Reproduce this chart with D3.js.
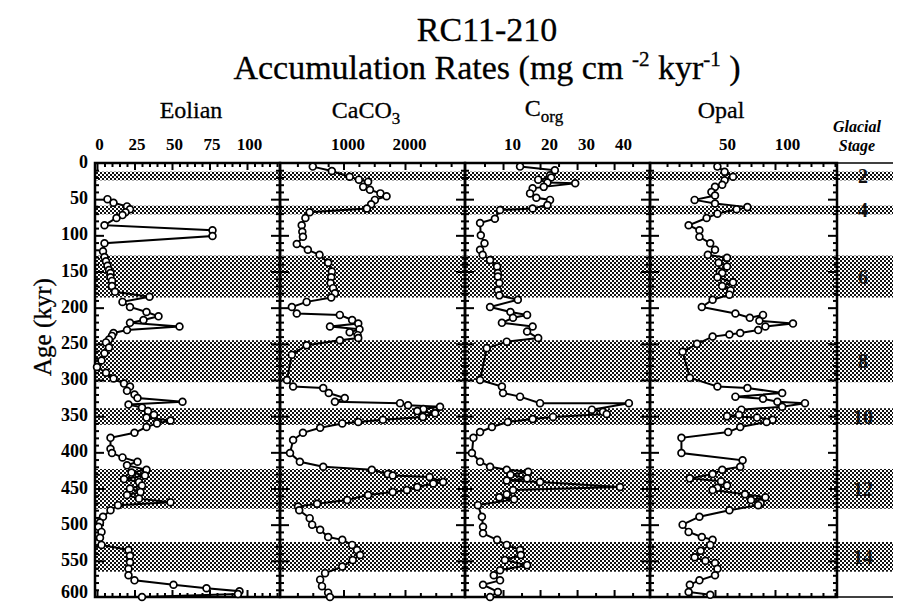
<!DOCTYPE html>
<html><head><meta charset="utf-8">
<script src="https://cdn.jsdelivr.net/npm/d3@7"></script>
<style>body{margin:0;background:#fff}svg{display:block}</style>
</head><body><svg id="c" width="898" height="602"></svg>
<script>
// ---------------- DATA ----------------
const ageTicks = [0,50,100,150,200,250,300,350,400,450,500,550,600];
const stageBands = [[12,24],[59,71],[128,186],[245,303],[339,362],[423,478],[524,565]];
const stageLabels = ["2","4","6","8","10","12","14"];

const eolianTicks = [0,25,50,75,100];
const caco3Ticks = [1000,2000];
const corgTicks = [10,20,30,40];
const opalTicks = [50,100];

// [age (kyr), accumulation rate]
const eolian = [[50,7],[55,11],[60,20],[64,22],[68,19],[72,17],[76,13],[86,5],[93,77],[101,77],[111,5],[122,4],[130,5],[136,6],[142,7],[148,8],[152,9],[158,9],[163,10],[170,10],[178,12],[185,35],[192,17],[199,22],[206,33],[212,41],[217,31],[221,22],[226,55],[231,20],[235,11],[239,10],[244,8],[248,6],[255,8],[263,5],[273,3],[282,0],[290,6],[298,11],[305,18],[309,22],[315,20],[320,25],[325,27],[330,57],[334,21],[338,30],[343,34],[348,38],[352,33],[356,49],[360,40],[365,33],[373,25],[380,9],[395,9],[401,10],[407,17],[413,27],[418,20],[424,33],[428,23],[432,32],[437,18],[441,28],[446,30],[450,22],[455,29],[459,20],[464,28],[469,49],[473,14],[480,9],[489,4],[497,2],[503,1],[510,3],[518,2],[528,3],[535,21],[543,22],[552,22],[561,21],[570,21],[577,25],[583,51],[588,73],[592,95],[596,94],[600,30]];

const caco3 = [[5,500],[11,810],[19,1100],[23,1250],[26,1400],[33,1320],[37,1430],[42,1600],[46,1700],[51,1510],[57,1450],[63,1380],[68,450],[76,380],[86,320],[95,330],[102,340],[112,240],[120,420],[127,610],[138,750],[150,810],[158,800],[166,790],[173,830],[180,860],[186,800],[192,400],[199,160],[208,240],[210,940],[217,1140],[222,1240],[226,780],[230,1260],[234,1100],[238,1230],[242,1240],[245,940],[252,400],[265,160],[300,80],[309,180],[311,670],[318,760],[325,1020],[330,860],[332,1920],[335,2050],[337,2570],[340,2300],[343,2200],[346,2490],[351,2290],[355,1640],[358,1240],[360,980],[366,620],[373,340],[383,180],[401,130],[413,290],[420,670],[424,1460],[430,1720],[432,1800],[434,2400],[441,2620],[443,2460],[448,2200],[452,2030],[455,1800],[459,1400],[466,1060],[471,570],[475,260],[480,280],[491,450],[500,490],[507,620],[517,750],[521,980],[528,1140],[535,1220],[542,1270],[549,1150],[558,980],[567,700],[576,620],[585,650],[594,750],[600,780]];

const corg = [[5,14.6],[10,24],[17,22.7],[20,23],[23,19.5],[27,22],[28,29.5],[33,21],[35,18],[42,17.3],[48,19],[51,22.7],[58,22],[63,18],[65,9.2],[77,7.8],[83,3.8],[100,4],[111,5],[120,3.8],[127,4.5],[134,6.5],[143,8.4],[152,8.6],[157,8.6],[166,9],[176,8.6],[183,9],[189,14],[199,6.5],[206,12],[210,16.5],[214,12.7],[221,9.7],[226,18],[233,16.5],[242,19.5],[247,11],[256,5.6],[300,3.8],[309,9.7],[318,10],[323,14.6],[332,20],[332,44],[341,34],[344,37],[347,38],[351,23.5],[354,18],[358,11.3],[365,7],[372,3.8],[380,2],[401,1.6],[413,3.8],[420,6.5],[424,11],[427,16.8],[431,12],[436,16.5],[439,11],[441,20],[448,41.6],[452,12.7],[458,11],[462,9],[465,13],[473,3.2],[489,4.3],[503,4.6],[512,4.6],[521,8.4],[528,11],[535,14.6],[542,14.8],[549,10.5],[556,16.5],[563,9.2],[570,7.5],[577,9.2],[583,4.6],[593,8.6],[600,6.5]];

const opal = [[5,52],[12,58],[19,65],[24,58],[30,56],[33,50],[40,47],[45,50],[51,33],[56,50],[61,77],[64,68],[70,52],[76,43],[86,28],[93,37],[102,37],[111,46],[120,50],[127,44],[131,60],[138,53],[143,60],[150,54],[152,56],[158,52],[165,65],[170,56],[176,63],[182,62],[189,48],[199,39],[208,67],[214,79],[210,90],[218,87],[222,115],[226,92],[231,86],[235,71],[237,62],[240,48],[250,35],[261,23],[297,29],[309,52],[311,77],[318,106],[323,67],[326,90],[330,102],[332,125],[337,106],[341,72],[348,70],[350,60],[352,85],[355,98],[358,93],[365,71],[372,61],[380,22],[401,22],[411,73],[420,71],[424,56],[430,48],[436,29],[440,55],[446,60],[449,52],[452,48],[458,75],[462,92],[466,80],[470,88],[473,86],[480,62],[489,37],[500,23],[510,28],[517,39],[521,48],[528,46],[536,38],[545,33],[550,42],[553,50],[561,52],[570,50],[577,37],[583,29],[593,28],[597,46]];

// ---------------- LAYOUT ----------------
const svg = d3.select("#c");
const yTop = 163, yBot = 597;
const y = d3.scaleLinear().domain([0,600]).range([yTop,yBot]);
const serif = "'Liberation Serif','Times New Roman',serif";

const defs = svg.append("defs");
const pat = defs.append("pattern").attr("id","hatch").attr("patternUnits","userSpaceOnUse")
  .attr("width",4).attr("height",4);
pat.append("rect").attr("width",4).attr("height",4).attr("fill","#fff");
pat.append("rect").attr("x",0).attr("y",0).attr("width",2).attr("height",2).attr("fill","#111");
pat.append("rect").attr("x",2).attr("y",2).attr("width",2).attr("height",2).attr("fill","#111");

const panels = [
  {title:"Eolian", data:eolian, x0:95, x1:280, domain:[-1.33,122], ticks:eolianTicks, labels:[0,25,50,75,100], minor:d3.range(5,125,5), labelDx:2, tx:191},
  {title:"CaCO3", data:caco3, x0:280, x1:465, domain:[-33,2976], ticks:caco3Ticks, labels:caco3Ticks, minor:d3.range(250,3000,250), labelDx:4, tx:366},
  {title:"Corg", data:corg, x0:465, x1:650, domain:[-0.27,49.7], ticks:corgTicks, labels:corgTicks, minor:d3.range(5,50,5), labelDx:9, tx:544},
  {title:"Opal", data:opal, x0:650, x1:837, domain:[-4.2,151.7], ticks:opalTicks, labels:opalTicks, minor:d3.range(10,152,10), labelDx:12, tx:721}
];

// stage bands across all panels and stage column
const bandG = svg.append("g");
bandG.selectAll("rect").data(stageBands).join("rect")
  .attr("x",95).attr("width",893-95)
  .attr("y",d=>y(d[0])).attr("height",d=>y(d[1])-y(d[0]))
  .attr("fill","url(#hatch)");

// stage labels
svg.append("g").selectAll("text").data(stageBands).join("text")
  .attr("x",863).attr("y",d=>y((d[0]+d[1])/2)).attr("dy","0.35em")
  .attr("text-anchor","middle").attr("font-family",serif).attr("font-weight","bold")
  .attr("font-size",20).attr("fill","#111").text((d,i)=>stageLabels[i]);

// stage column top/bottom lines
svg.append("line").attr("x1",837).attr("x2",893).attr("y1",yTop).attr("y2",yTop).attr("stroke","#000").attr("stroke-width",1.5);
svg.append("line").attr("x1",837).attr("x2",893).attr("y1",yBot).attr("y2",yBot).attr("stroke","#000").attr("stroke-width",1.5);

const minorAge = d3.range(10,600,10).filter(a=>a%50!==0);

panels.forEach(p=>{
  const x = d3.scaleLinear().domain(p.domain).range([p.x0,p.x1]);
  const g = svg.append("g");

  // y ticks inside left and right
  const yMajL = d3.axisRight(y).tickValues(ageTicks.slice(1,-1)).tickSize(9).tickFormat("");
  const yMinL = d3.axisRight(y).tickValues(minorAge).tickSize(4).tickFormat("");
  const yMajR = d3.axisLeft(y).tickValues(ageTicks.slice(1,-1)).tickSize(9).tickFormat("");
  const yMinR = d3.axisLeft(y).tickValues(minorAge).tickSize(4).tickFormat("");
  [[yMajL,p.x0],[yMinL,p.x0],[yMajR,p.x1],[yMinR,p.x1]].forEach(([ax,xx])=>{
    const a = g.append("g").attr("transform",`translate(${xx},0)`).call(ax);
    a.select(".domain").remove();
    a.selectAll("line").attr("stroke","#000").attr("stroke-width",2);
  });

  // x ticks inside top and bottom
  const xMaj = p.ticks.filter(v=>v>p.domain[0]+1e-9);
  const inMinor = p.minor.filter(v=>v<p.domain[1] && !p.ticks.includes(v));
  [[d3.axisBottom(x).tickValues(xMaj).tickSize(7).tickFormat(""),yTop],
   [d3.axisBottom(x).tickValues(inMinor).tickSize(4).tickFormat(""),yTop],
   [d3.axisTop(x).tickValues(xMaj).tickSize(7).tickFormat(""),yBot],
   [d3.axisTop(x).tickValues(inMinor).tickSize(4).tickFormat(""),yBot]].forEach(([ax,yy])=>{
    const a = g.append("g").attr("transform",`translate(0,${yy})`).call(ax);
    a.select(".domain").remove();
    a.selectAll("line").attr("stroke","#000").attr("stroke-width",2);
  });

  // tick labels on top
  const lab = d3.axisTop(x).tickValues(p.labels).tickSize(0).tickPadding(0).tickFormat(d3.format("d"));
  const la = svg.append("g").attr("transform",`translate(0,150)`).call(lab);
  la.select(".domain").remove();
  la.selectAll("text").attr("font-family",serif).attr("font-weight","bold").attr("font-size",17)
    .attr("fill","#000").attr("dx",p.labelDx).attr("dy",0);

  // border
  g.append("rect").attr("x",p.x0).attr("y",yTop).attr("width",p.x1-p.x0).attr("height",yBot-yTop)
    .attr("fill","none").attr("stroke","#000").attr("stroke-width",2.5);

  // data line + points
  const line = d3.line().x(d=>x(d[1])).y(d=>y(d[0]));
  g.append("path").datum(p.data).attr("d",line).attr("fill","none").attr("stroke","#000").attr("stroke-width",2);
  g.selectAll("circle").data(p.data).join("circle")
    .attr("cx",d=>x(d[1])).attr("cy",d=>y(d[0])).attr("r",3.4)
    .attr("fill","#fff").attr("stroke","#000").attr("stroke-width",1.7);
});

// column titles
const tt = svg.append("g").attr("font-family",serif).attr("font-size",24).attr("fill","#000")
  .attr("stroke","#000").attr("stroke-width",0.3).attr("text-anchor","middle");
tt.append("text").attr("x",panels[0].tx).attr("y",118).text("Eolian");
const t2 = tt.append("text").attr("x",panels[1].tx).attr("y",118);
t2.append("tspan").text("CaCO");
t2.append("tspan").attr("font-size",17).attr("dy",6).text("3");
const t3 = tt.append("text").attr("x",panels[2].tx).attr("y",116);
t3.append("tspan").text("C");
t3.append("tspan").attr("font-size",17).attr("dy",6).text("org");
tt.append("text").attr("x",panels[3].tx).attr("y",118).text("Opal");

// glacial stage header
const gs = svg.append("g").attr("font-family",serif).attr("font-size",16).attr("font-style","italic")
  .attr("font-weight","bold").attr("text-anchor","middle").attr("fill","#000");
gs.append("text").attr("x",857).attr("y",132).text("Glacial");
gs.append("text").attr("x",857).attr("y",151).text("Stage");

// y axis labels
const yl = d3.axisLeft(y).tickValues(ageTicks).tickSize(0).tickPadding(0).tickFormat(d3.format("d"));
const yla = svg.append("g").attr("transform","translate(88,0)").call(yl);
yla.select(".domain").remove();
yla.selectAll("text").attr("font-family",serif).attr("font-weight","bold").attr("font-size",18)
  .attr("fill","#000").attr("dy",d=>d===600?"0.05em":"0.25em");

svg.append("text").attr("transform","translate(51,327) rotate(-90)").attr("text-anchor","middle")
  .attr("font-family",serif).attr("font-size",25).attr("fill","#000").attr("stroke","#000").attr("stroke-width",0.3)
  .text("Age (kyr)");

// titles
svg.append("text").attr("x",487).attr("y",41).attr("text-anchor","middle").attr("font-family",serif)
  .attr("font-size",34).attr("fill","#000").attr("stroke","#000").attr("stroke-width",0.3).text("RC11-210");
const t = svg.append("text").attr("x",487).attr("y",79).attr("text-anchor","middle").attr("font-family",serif)
  .attr("font-size",34).attr("fill","#000").attr("stroke","#000").attr("stroke-width",0.3);
t.append("tspan").text("Accumulation Rates (mg cm ");
t.append("tspan").attr("font-size",21).attr("dy",-13).text("-2");
t.append("tspan").attr("dy",13).text(" kyr");
t.append("tspan").attr("font-size",21).attr("dy",-13).text("-1");
t.append("tspan").attr("dy",13).text(" )");
</script></body></html>
